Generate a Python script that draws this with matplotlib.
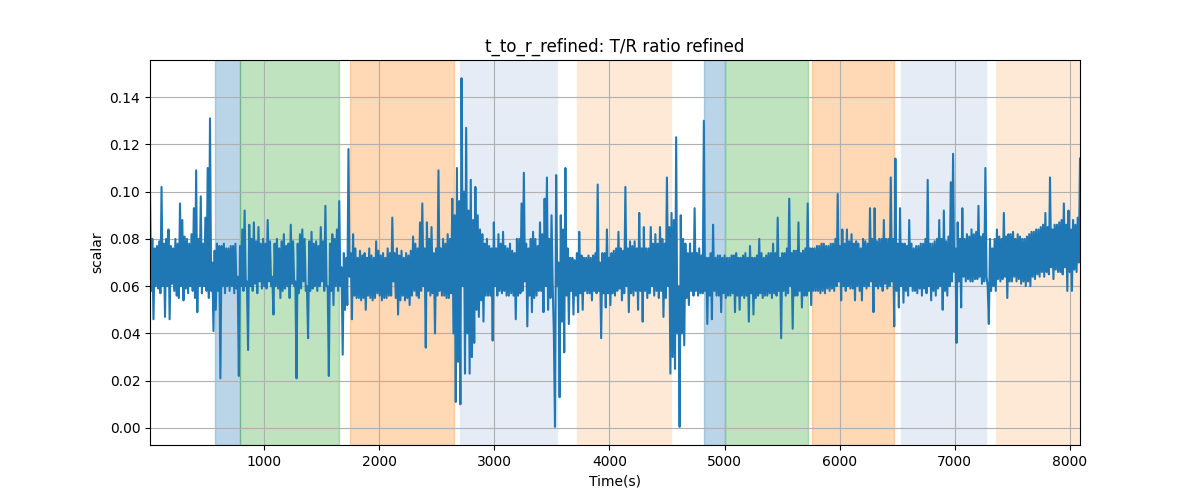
import numpy as np
import matplotlib
matplotlib.use("Agg")
import matplotlib.pyplot as plt

# T/R ratio, in thousandths, one row per ~500 s.
# The trace is a dense band: peaks and troughs are read separately and
# alternate in time (peak, trough, peak, ...), ~10 s apart.
peak_milli = [
    100, 80, 76, 77, 79, 102, 78, 80, 84, 77, 76, 80, 78, 95, 88, 81, 80, 78, 82, 93, 109, 80, 98, 78, 89,
    110, 131, 70, 75, 78, 77, 77, 78, 76, 76, 77, 77, 78, 64, 77, 84, 92, 62, 86, 80, 87, 79, 85, 78, 80,
    78, 88, 79, 64, 78, 80, 76, 79, 82, 77, 78, 86, 79, 62, 78, 82, 84, 80, 60, 79, 83, 78, 79, 77, 85,
    79, 94, 60, 78, 82, 80, 84, 96, 68, 74, 72, 118, 74, 82, 76, 72, 75, 73, 74, 72, 76, 73, 72, 79, 75,
    73, 74, 72, 76, 74, 89, 74, 76, 73, 75, 72, 74, 73, 75, 81, 78, 76, 87, 95, 76, 87, 80, 85, 74, 76,
    109, 76, 80, 78, 82, 80, 97, 90, 110, 96, 148, 100, 127, 92, 105, 88, 102, 90, 84, 82, 78, 80, 77, 76, 87,
    76, 82, 78, 83, 77, 76, 78, 75, 74, 80, 80, 95, 108, 78, 76, 80, 83, 80, 77, 87, 82, 97, 106, 80, 90,
    40, 107, 70, 90, 84, 110, 76, 72, 72, 71, 74, 83, 73, 72, 72, 73, 72, 73, 74, 103, 70, 74, 74, 84, 72,
    74, 75, 76, 83, 76, 75, 102, 76, 79, 77, 79, 76, 91, 76, 85, 76, 76, 85, 78, 82, 78, 85, 80, 78, 106,
    85, 91, 88, 123, 60, 90, 80, 78, 74, 78, 74, 93, 74, 76, 73, 130, 72, 72, 74, 86, 72, 73, 73, 72, 73,
    72, 72, 73, 73, 74, 72, 72, 73, 74, 72, 77, 72, 72, 73, 80, 74, 72, 73, 74, 74, 78, 74, 89, 72, 74,
    74, 76, 97, 74, 75, 75, 87, 74, 75, 76, 95, 76, 76, 76, 77, 77, 78, 78, 77, 77, 78, 78, 80, 99, 77,
    84, 78, 84, 79, 82, 78, 79, 78, 76, 80, 79, 78, 93, 80, 93, 79, 80, 80, 88, 80, 80, 106, 80, 114, 78,
    93, 78, 78, 77, 88, 78, 76, 77, 77, 78, 78, 80, 105, 78, 78, 79, 80, 88, 80, 92, 79, 81, 104, 116, 76,
    87, 80, 93, 80, 82, 81, 84, 82, 83, 94, 81, 82, 110, 60, 80, 76, 80, 84, 81, 80, 91, 81, 82, 82, 83,
    80, 82, 81, 80, 80, 81, 82, 83, 83, 84, 84, 85, 86, 91, 85, 106, 84, 86, 86, 87, 88, 95, 86, 92, 84,
    88, 86, 89, 114,
]
trough_milli = [
    58, 46, 60, 59, 57, 60, 47, 60, 46, 61, 58, 56, 55, 60, 54, 59, 57, 60, 58, 55, 49, 60, 57, 60, 58,
    55, 58, 41, 50, 58, 21, 60, 57, 60, 58, 60, 57, 59, 22, 60, 58, 60, 33, 60, 58, 61, 57, 62, 59, 60,
    59, 62, 60, 48, 60, 59, 55, 58, 59, 60, 55, 61, 60, 21, 57, 59, 62, 58, 38, 58, 59, 60, 58, 60, 62,
    58, 60, 22, 58, 52, 60, 58, 60, 31, 50, 52, 64, 46, 56, 55, 55, 54, 55, 50, 56, 55, 54, 55, 57, 56,
    54, 55, 55, 56, 56, 62, 55, 48, 54, 56, 54, 55, 52, 56, 58, 56, 55, 58, 60, 34, 58, 56, 57, 40, 56,
    58, 56, 56, 55, 55, 57, 40, 11, 28, 10, 60, 23, 40, 23, 30, 36, 50, 47, 54, 45, 56, 56, 56, 37, 60,
    56, 58, 57, 58, 56, 56, 57, 56, 46, 56, 57, 58, 62, 43, 56, 49, 55, 56, 58, 58, 49, 60, 50, 55, 60,
    0.5, 60, 13, 45, 32, 56, 44, 58, 48, 56, 49, 57, 50, 58, 57, 57, 54, 58, 57, 58, 38, 57, 51, 57, 52,
    57, 56, 58, 59, 54, 57, 60, 49, 57, 56, 58, 50, 58, 45, 58, 55, 57, 60, 56, 58, 55, 58, 47, 55, 60,
    23, 30, 25, 40, 0.5, 40, 35, 55, 52, 58, 56, 58, 56, 57, 57, 58, 44, 56, 46, 58, 56, 56, 49, 57, 55,
    56, 56, 57, 49, 56, 50, 56, 55, 56, 45, 57, 48, 55, 56, 57, 55, 56, 56, 57, 55, 57, 56, 58, 38, 58,
    56, 57, 60, 42, 56, 56, 58, 51, 56, 56, 58, 52, 58, 58, 58, 57, 58, 57, 59, 58, 59, 58, 60, 62, 54,
    60, 58, 60, 59, 59, 54, 60, 58, 54, 60, 59, 60, 62, 49, 60, 59, 60, 58, 61, 59, 60, 62, 43, 58, 51,
    60, 53, 58, 56, 60, 58, 58, 57, 59, 56, 59, 57, 60, 54, 58, 56, 59, 60, 50, 58, 56, 60, 62, 66, 36,
    62, 51, 64, 62, 63, 62, 62, 63, 63, 64, 61, 62, 64, 44, 58, 60, 58, 63, 62, 63, 64, 55, 62, 62, 64,
    62, 63, 61, 62, 60, 62, 60, 64, 63, 65, 64, 66, 64, 66, 65, 68, 63, 67, 66, 66, 65, 68, 58, 66, 58,
    67, 66, 70,
]
t_start, t_end = 9, 8087

# shaded phases
span_start = [574, 794, 1748, 2704, 3722, 4820, 5000, 5762, 6530, 7357]
span_end = [794, 1650, 2652, 3548, 4537, 5000, 5725, 6470, 7270, 8087]
span_color = ['tab:blue', 'tab:green', 'tab:orange', '#e5ecf6', '#fde9d6',
              'tab:blue', 'tab:green', 'tab:orange', '#e5ecf6', '#fde9d6']
span_alpha = [0.3, 0.3, 0.3, 1, 1, 0.3, 0.3, 0.3, 1, 1]

ratio = np.empty(len(peak_milli) + len(trough_milli))
ratio[0::2] = peak_milli
ratio[1::2] = trough_milli
ratio = ratio / 1000.0
t = np.linspace(t_start, t_end, len(ratio))

fig, ax = plt.subplots(figsize=(12, 5), dpi=100)

for a, b, c, al in zip(span_start, span_end, span_color, span_alpha):
    ax.axvspan(a, b, color=c, alpha=al)

ax.plot(t, ratio, color='tab:blue', linewidth=1.5)

ax.set_xlim(t_start, t_end)
ax.set_ylim(-0.0072, 0.1557)
ax.set_yticks(np.arange(0, 0.15, 0.02))
ax.grid(True)
ax.set_title('t_to_r_refined: T/R ratio refined')
ax.set_xlabel('Time(s)')
ax.set_ylabel('scalar')

fig.savefig('out.png', dpi=100)
